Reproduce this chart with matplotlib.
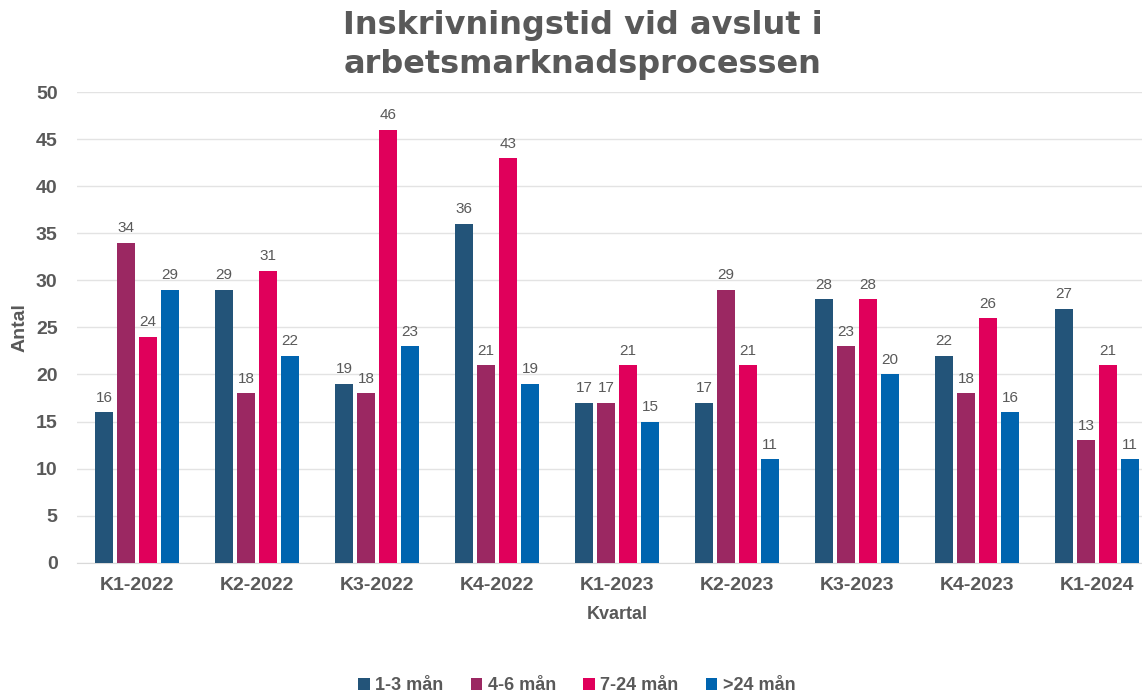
import numpy as np
import matplotlib.pyplot as plt

plt.rcParams['font.family'] = ['Liberation Sans', 'DejaVu Sans']

kvartal = ['K1-2022', 'K2-2022', 'K3-2022', 'K4-2022', 'K1-2023',
           'K2-2023', 'K3-2023', 'K4-2023', 'K1-2024']
serier = ['1-3 mån', '4-6 mån', '7-24 mån', '>24 mån']
m1_3 = [16, 29, 19, 36, 17, 17, 28, 22, 27]
m4_6 = [34, 18, 18, 21, 17, 29, 23, 18, 13]
m7_24 = [24, 31, 46, 43, 21, 21, 28, 26, 21]
m24 = [29, 22, 23, 19, 15, 11, 20, 16, 11]
farger = ['#235479', '#9B2862', '#E0005B', '#0064AF']

grey = '#595959'
fig = plt.figure(figsize=(11.42, 6.93), dpi=100)
# axes runs a bit past the right edge, like the original
ax = fig.add_axes([0.0675, 0.188, 0.9457, 0.679])

x = np.arange(len(kvartal))
w = 0.15
step = 0.183
for i, (vals, namn) in enumerate(zip([m1_3, m4_6, m7_24, m24], serier)):
    pos = x + (i - 1.5) * step
    bars = ax.bar(pos, vals, w, color=farger[i], label=namn, zorder=3)
    for b, v in zip(bars, vals):
        ax.text(b.get_x() + b.get_width() / 2, v + 0.8, str(v), ha='center', va='bottom',
                fontsize=11, color=grey)

ax.set_xlim(-0.5, len(kvartal) - 0.5)
ax.set_ylim(0, 50)
ax.set_yticks(range(0, 51, 5))
ax.grid(axis='y', color='#e3e3e3', linewidth=1, zorder=0)
for s in ['top', 'right', 'left']:
    ax.spines[s].set_visible(False)
ax.spines['bottom'].set_color('#d9d9d9')
ax.tick_params(axis='both', length=0, labelsize=14, labelcolor=grey)
ax.tick_params(axis='y', pad=14)
ax.tick_params(axis='x', pad=10)
ax.set_xticks(x)
ax.set_xticklabels(kvartal, fontweight='bold')
for t in ax.get_yticklabels():
    t.set_fontweight('bold')

ax.set_xlabel('Kvartal', fontsize=13, fontweight='bold', color=grey, labelpad=9)
ax.set_ylabel('Antal', fontsize=14, fontweight='bold', color=grey, labelpad=5)

fig.text(0.51, 0.985, 'Inskrivningstid vid avslut i\narbetsmarknadsprocessen',
         ha='center', va='top', fontsize=23, fontweight='bold', color=grey,
         family=['Liberation Sans Narrow', 'DejaVu Sans'], linespacing=1.3)

fig.legend(loc='lower center', bbox_to_anchor=(0.505, -0.025), ncol=4, frameon=False,
           handlelength=0.65, handleheight=0.65, handletextpad=0.3, columnspacing=1.5,
           prop={'size': 13, 'weight': 'bold'}, labelcolor=grey)

fig.savefig('out.png', dpi=100)
